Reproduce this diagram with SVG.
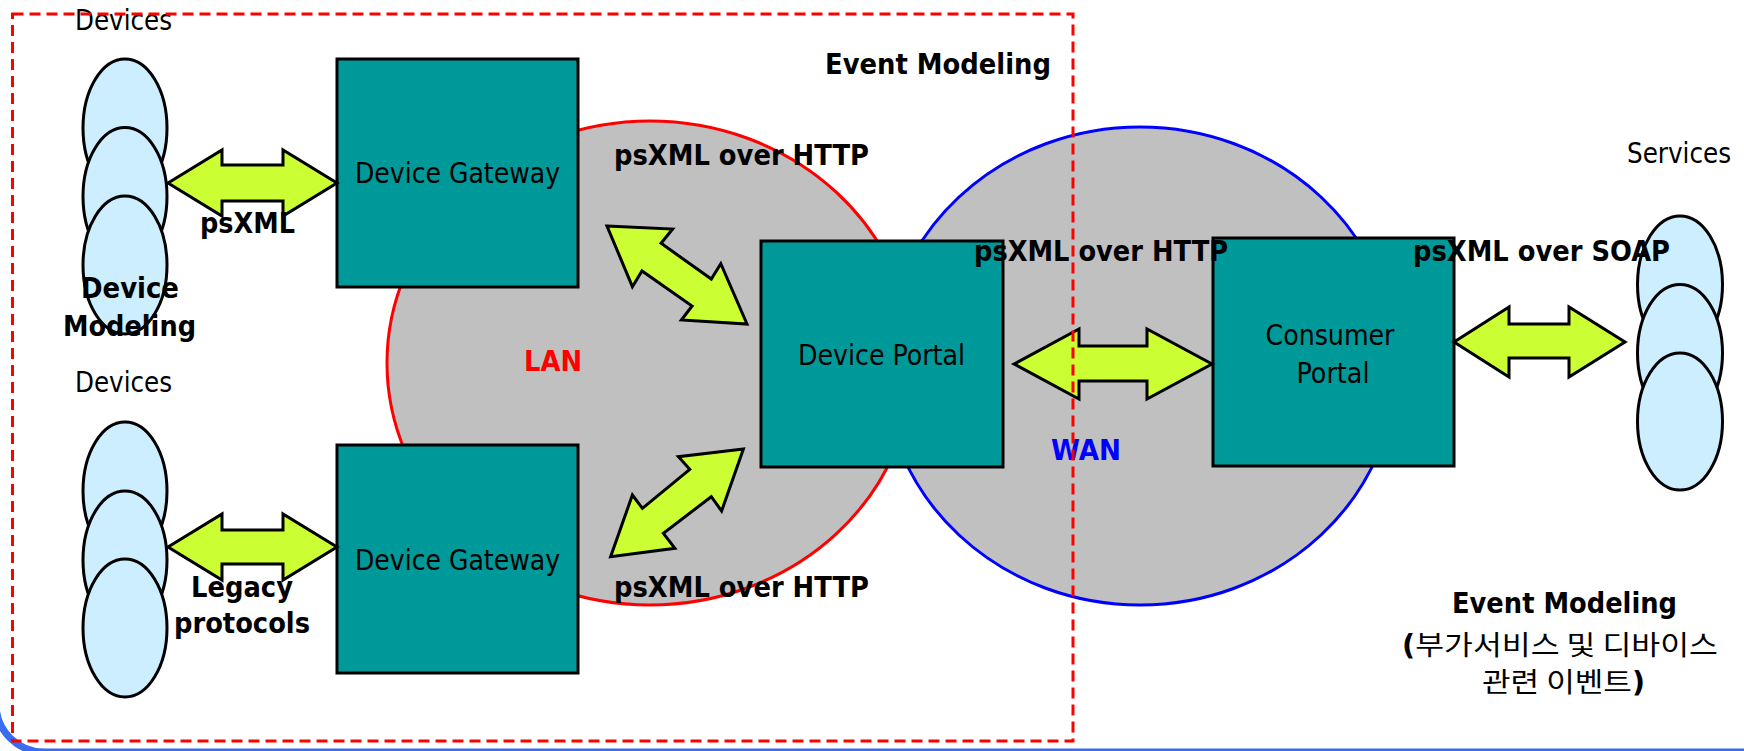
<svg xmlns="http://www.w3.org/2000/svg" width="1744" height="751" viewBox="0 0 1744 751">
<style>
.t{font-family:"DejaVu Sans Condensed","DejaVu Sans","Liberation Sans",sans-serif;font-stretch:condensed;font-size:27.5px;fill:#000}
.b{font-family:"DejaVu Sans Condensed","DejaVu Sans","Liberation Sans",sans-serif;font-stretch:condensed;font-size:27.5px;font-weight:bold;fill:#000}
.k{font-family:"Noto Sans CJK KR","Noto Sans CJK SC",sans-serif;font-size:27px;font-weight:normal;fill:#000}
.box{fill:#009999;stroke:#000;stroke-width:3}
.dev{fill:#cceeff;stroke:#000;stroke-width:3}
.arr{fill:#ccff33;stroke:#000;stroke-width:3;stroke-linejoin:miter}
.m{text-anchor:middle}
</style>
<rect width="1744" height="751" fill="#fff"/>
<rect x="-4" y="-100" width="1800" height="852" rx="48" fill="none" stroke="#3a6cf2" stroke-width="7"/>
<g id="lan">
<ellipse cx="650" cy="363" rx="263" ry="242" fill="#c0c0c0" stroke="#ff0000" stroke-width="3"/>
<text class="b" x="524" y="371" textLength="58" lengthAdjust="spacingAndGlyphs" style="fill:#ff0000">LAN</text>
</g>
<g id="wan">
<ellipse cx="1140" cy="366" rx="256" ry="239" fill="#c0c0c0" stroke="#0000ff" stroke-width="3"/>
</g>
<g id="devices-top">
<ellipse class="dev" cx="125" cy="128" rx="42" ry="69"/>
<ellipse class="dev" cx="125" cy="196.5" rx="42" ry="69"/>
<ellipse class="dev" cx="125" cy="265" rx="42" ry="69"/>
<text class="t m" x="123.5" y="30" textLength="97" lengthAdjust="spacingAndGlyphs">Devices</text>
</g>
<g id="devices-bottom">
<ellipse class="dev" cx="125" cy="491" rx="42" ry="69"/>
<ellipse class="dev" cx="125" cy="560" rx="42" ry="69"/>
<ellipse class="dev" cx="125" cy="628" rx="42" ry="69"/>
<text class="t m" x="123.5" y="392" textLength="97" lengthAdjust="spacingAndGlyphs">Devices</text>
</g>
<g id="services">
<ellipse class="dev" cx="1680" cy="284.5" rx="42.5" ry="68.5"/>
<ellipse class="dev" cx="1680" cy="353" rx="42.5" ry="68.5"/>
<ellipse class="dev" cx="1680" cy="421.5" rx="42.5" ry="68.5"/>
<text class="t m" x="1679" y="163" textLength="104" lengthAdjust="spacingAndGlyphs">Services</text>
</g>
<g id="gateway-top">
<rect class="box" x="337" y="59" width="241" height="228"/>
<text class="t m" x="457.5" y="183" textLength="205" lengthAdjust="spacingAndGlyphs">Device Gateway</text>
</g>
<g id="gateway-bottom">
<rect class="box" x="337" y="445" width="241" height="228"/>
<text class="t m" x="457.5" y="570" textLength="205" lengthAdjust="spacingAndGlyphs">Device Gateway</text>
</g>
<g id="device-portal">
<rect class="box" x="761" y="241" width="242" height="226"/>
<text class="t m" x="881.5" y="365" textLength="167" lengthAdjust="spacingAndGlyphs">Device Portal</text>
</g>
<g id="consumer-portal">
<rect class="box" x="1213" y="238" width="241" height="228"/>
<text class="t m" x="1330" y="345" textLength="129" lengthAdjust="spacingAndGlyphs">Consumer</text>
<text class="t m" x="1333" y="383" textLength="73" lengthAdjust="spacingAndGlyphs">Portal</text>
</g>
<g id="connectors">
<polygon class="arr" points="168,183 222,150 222,165 283,165 283,150 337,183 283,216 283,201 222,201 222,216"/>
<polygon class="arr" points="168,547 222,514 222,530 283,530 283,514 337,547 283,580 283,564 222,564 222,580"/>
<polygon class="arr" points="607,226 672.6,229 661.1,243.3 711.3,279 720.8,263.7 747,324 681.4,320 692.1,306 642,271 632.4,286.7"/>
<polygon class="arr" points="743.4,449 678.4,456.7 689.8,469.3 642.4,508.3 632.4,495 610.6,556.7 674.9,548.3 663.4,533.3 711.3,496.7 721.6,511"/>
<polygon class="arr" points="1014,364 1079,329 1079,346 1147,346 1147,329 1212,364 1147,399 1147,381 1079,381 1079,399"/>
<polygon class="arr" points="1454,342 1509,307 1509,324 1569,324 1569,307 1625,342 1569,377 1569,358 1509,358 1509,377"/>
</g>
<g id="labels">
<text class="b" x="825" y="74" textLength="226" lengthAdjust="spacingAndGlyphs">Event Modeling</text>
<text class="b" x="614" y="165" textLength="255" lengthAdjust="spacingAndGlyphs">psXML over HTTP</text>
<text class="b" x="974" y="261" textLength="254" lengthAdjust="spacingAndGlyphs">psXML over HTTP</text>
<text class="b" x="1413" y="261" textLength="257" lengthAdjust="spacingAndGlyphs">psXML over SOAP</text>
<text class="b" x="614" y="597" textLength="255" lengthAdjust="spacingAndGlyphs">psXML over HTTP</text>
<text class="b" x="200" y="233" textLength="95" lengthAdjust="spacingAndGlyphs">psXML</text>
<text class="b m" x="130" y="298" textLength="98" lengthAdjust="spacingAndGlyphs">Device</text>
<text class="b m" x="129.5" y="336" textLength="133" lengthAdjust="spacingAndGlyphs">Modeling</text>
<text class="b" x="1051" y="460" textLength="70" lengthAdjust="spacingAndGlyphs" style="fill:#0000ff">WAN</text>
<text class="b m" x="242" y="597" textLength="102" lengthAdjust="spacingAndGlyphs">Legacy</text>
<text class="b m" x="242" y="633" textLength="136" lengthAdjust="spacingAndGlyphs">protocols</text>
<text class="b m" x="1564.5" y="613" textLength="225" lengthAdjust="spacingAndGlyphs">Event Modeling</text>
<text class="b m" x="1560" y="655" textLength="316" lengthAdjust="spacingAndGlyphs">(<tspan class="k">부가서비스 및 디바이스</tspan></text>
<text class="b m" x="1563.5" y="692" textLength="163" lengthAdjust="spacingAndGlyphs"><tspan class="k">관련 이벤트</tspan>)</text>
</g>
<rect x="12.5" y="14" width="1060.5" height="727" fill="none" stroke="#ff0000" stroke-width="3" stroke-dasharray="11 6"/>
</svg>
